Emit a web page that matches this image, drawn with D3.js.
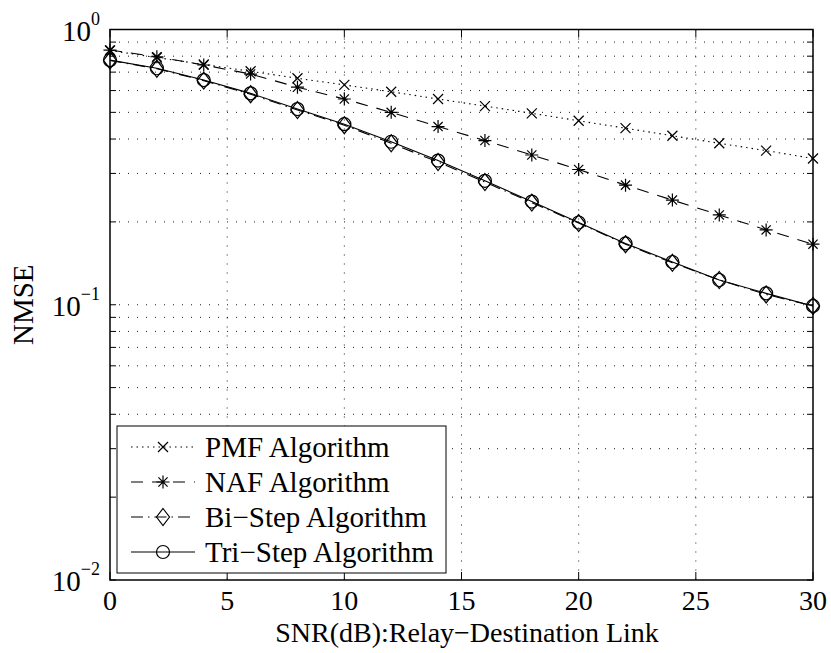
<!DOCTYPE html>
<html>
<head>
<meta charset="utf-8">
<script src="https://cdn.jsdelivr.net/npm/d3@7"></script>
<style>
  body { margin: 0; background: #fff; }
  text { font-family: "Liberation Serif", "Times New Roman", serif; fill: #000; }
</style>
</head>
<body>
<div id="graph"></div>
<script>
var width = 831;
var height = 653;

// data
var snr = [0, 2, 4, 6, 8, 10, 12, 14, 16, 18, 20, 22, 24, 26, 28, 30];
var pmf = [0.839, 0.791, 0.746, 0.705, 0.665, 0.629, 0.594, 0.559, 0.527, 0.496, 0.466, 0.438, 0.411, 0.386, 0.363, 0.340];
var naf = [0.842, 0.796, 0.743, 0.689, 0.617, 0.559, 0.500, 0.444, 0.395, 0.350, 0.310, 0.272, 0.240, 0.212, 0.187, 0.166];
var biStep = [0.772, 0.720, 0.652, 0.582, 0.510, 0.449, 0.386, 0.330, 0.279, 0.235, 0.198, 0.166, 0.142, 0.123, 0.109, 0.099];
var triStep = [0.774, 0.723, 0.655, 0.586, 0.514, 0.453, 0.391, 0.334, 0.282, 0.237, 0.199, 0.167, 0.143, 0.123, 0.110, 0.099];
var xTicks = [0, 5, 10, 15, 20, 25, 30];
var yExponents = [0, -1, -2];
var legendNames = ["PMF Algorithm", "NAF Algorithm", "Bi\u2212Step Algorithm", "Tri\u2212Step Algorithm"];

var plotLeft = 110, plotTop = 29.5, plotRight = 813, plotBottom = 580;

var x = d3.scaleLinear().domain([0, 30]).range([plotLeft, plotRight]);
var y = d3.scaleLog().domain([0.01, 1]).range([plotBottom, plotTop]);

var svg = d3.select("#graph").append("svg")
  .attr("width", width)
  .attr("height", height);

//minor log values for grid and ticks
var minorVals = [];
[0.01, 0.1].forEach(function(dec) {
  for (let k = 1; k <= 9; k++) minorVals.push(dec * k);
});
minorVals.push(1);

var grid = svg.append("g")
  .attr("stroke", "#000")
  .attr("stroke-width", 0.9)
  .attr("stroke-dasharray", "1,8");

grid.selectAll(".hg").data(minorVals.filter(function(v) { return v > 0.0101 && v < 0.99; }))
  .enter().append("line")
  .attr("x1", plotLeft).attr("x2", plotRight)
  .attr("y1", function(d) { return y(d); })
  .attr("y2", function(d) { return y(d); });

grid.selectAll(".vg").data(xTicks.slice(1, -1))
  .enter().append("line")
  .attr("y1", plotTop).attr("y2", plotBottom)
  .attr("x1", function(d) { return x(d); })
  .attr("x2", function(d) { return x(d); });

//ticks (inward, both sides)
var ticks = svg.append("g").attr("stroke", "#000").attr("stroke-width", 1);
xTicks.forEach(function(t) {
  ticks.append("line").attr("x1", x(t)).attr("x2", x(t)).attr("y1", plotBottom).attr("y2", plotBottom - 8);
  ticks.append("line").attr("x1", x(t)).attr("x2", x(t)).attr("y1", plotTop).attr("y2", plotTop + 8);
});
minorVals.forEach(function(v) {
  let len = 6;
  ticks.append("line").attr("x1", plotLeft).attr("x2", plotLeft + len).attr("y1", y(v)).attr("y2", y(v));
  ticks.append("line").attr("x1", plotRight).attr("x2", plotRight - len).attr("y1", y(v)).attr("y2", y(v));
});

//series
var series = [
  { vals: pmf, dash: "1.5,4", marker: "x" },
  { vals: naf, dash: "12,9", marker: "star" },
  { vals: biStep, dash: "12,5,1.5,5", marker: "diamond" },
  { vals: triStep, dash: null, marker: "circle" }
];

var line = d3.line()
  .x(function(d) { return x(d[0]); })
  .y(function(d) { return y(d[1]); });

function drawMarker(g, type, cx, cy) {
  if (type === "x") {
    let s = 5;
    g.append("path").attr("d", "M" + (cx - s) + "," + (cy - s) + "L" + (cx + s) + "," + (cy + s) +
      "M" + (cx - s) + "," + (cy + s) + "L" + (cx + s) + "," + (cy - s))
      .attr("stroke", "#000").attr("stroke-width", 1.2).attr("fill", "none");
  } else if (type === "star") {
    let s = 6.5, d = 4.6;
    g.append("path").attr("d", "M" + (cx - s) + "," + cy + "L" + (cx + s) + "," + cy +
      "M" + cx + "," + (cy - s) + "L" + cx + "," + (cy + s) +
      "M" + (cx - d) + "," + (cy - d) + "L" + (cx + d) + "," + (cy + d) +
      "M" + (cx - d) + "," + (cy + d) + "L" + (cx + d) + "," + (cy - d))
      .attr("stroke", "#000").attr("stroke-width", 1.2).attr("fill", "none");
  } else if (type === "diamond") {
    let w = 6.5, h = 8.5;
    g.append("path").attr("d", "M" + cx + "," + (cy - h) + "L" + (cx + w) + "," + cy +
      "L" + cx + "," + (cy + h) + "L" + (cx - w) + "," + cy + "Z")
      .attr("stroke", "#000").attr("stroke-width", 1.2).attr("fill", "none");
  } else {
    g.append("circle").attr("cx", cx).attr("cy", cy).attr("r", 6.5)
      .attr("stroke", "#000").attr("stroke-width", 1.2).attr("fill", "none");
  }
}

var plot = svg.append("g");
series.forEach(function(s) {
  let pts = snr.map(function(v, i) { return [v, s.vals[i]]; });
  plot.append("path")
    .datum(pts)
    .attr("d", line)
    .attr("fill", "none")
    .attr("stroke", "#000")
    .attr("stroke-width", 1.1)
    .attr("stroke-dasharray", s.dash);
  pts.forEach(function(p) { drawMarker(plot, s.marker, x(p[0]), y(p[1])); });
});

//axes box
svg.append("rect")
  .attr("x", plotLeft).attr("y", plotTop)
  .attr("width", plotRight - plotLeft).attr("height", plotBottom - plotTop)
  .attr("fill", "none").attr("stroke", "#000").attr("stroke-width", 1.5);

//tick labels
svg.selectAll(".xl").data(xTicks).enter().append("text")
  .attr("x", function(d) { return x(d); })
  .attr("y", 610)
  .attr("text-anchor", "middle")
  .attr("font-size", 28)
  .text(function(d) { return d; });

yExponents.forEach(function(e) {
  let t = svg.append("text")
    .attr("x", 100)
    .attr("y", y(Math.pow(10, e)) + 11)
    .attr("text-anchor", "end")
    .attr("font-size", 29);
  t.append("tspan").text("10");
  t.append("tspan").attr("dy", -16).attr("font-size", 18)
    .text(e === 0 ? "0" : "\u2212" + (-e));
});

//axis labels
svg.append("text")
  .attr("x", 467).attr("y", 642)
  .attr("text-anchor", "middle")
  .attr("font-size", 28)
  .text("SNR(dB):Relay\u2212Destination Link");

svg.append("text")
  .attr("transform", "translate(33," + ((plotTop + plotBottom) / 2) + ") rotate(-90)")
  .attr("text-anchor", "middle")
  .attr("font-size", 29)
  .text("NMSE");

//legend
var legend = svg.append("g");
legend.append("rect")
  .attr("x", 117).attr("y", 426)
  .attr("width", 329).attr("height", 147)
  .attr("fill", "#fff").attr("stroke", "#000").attr("stroke-width", 1);

var rowY = d3.scaleLinear().domain([0, 3]).range([447, 552]);
series.forEach(function(s, i) {
  let cy = rowY(i);
  legend.append("line")
    .attr("x1", 131).attr("x2", 195)
    .attr("y1", cy).attr("y2", cy)
    .attr("stroke", "#000").attr("stroke-width", 1.1)
    .attr("stroke-dasharray", s.dash);
  drawMarker(legend, s.marker, 163, cy);
  legend.append("text")
    .attr("x", 205).attr("y", cy + 10)
    .attr("font-size", 29)
    .text(legendNames[i]);
});
</script>
</body>
</html>
